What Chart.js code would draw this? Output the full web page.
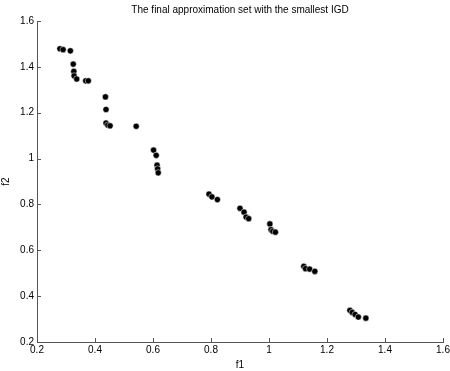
<!DOCTYPE html>
<html>
<head>
<meta charset="utf-8">
<script src="https://cdn.jsdelivr.net/npm/chart.js@4/dist/chart.umd.min.js"></script>
<style>
  html, body { margin: 0; padding: 0; background: #fff; }
  #wrap { width: 450px; height: 371px; }
</style>
</head>
<body>
<div id="wrap"><canvas id="igdChart" width="450" height="371"></canvas></div>
<script>
// valores
const f1 = [0.279, 0.290, 0.315, 0.325, 0.327, 0.328, 0.337, 0.368, 0.377,
  0.436, 0.438, 0.438, 0.444, 0.452, 0.542,
  0.602, 0.611, 0.614, 0.616, 0.618,
  0.793, 0.803, 0.822, 0.900, 0.914, 0.921, 0.930,
  1.003, 1.007, 1.013, 1.022,
  1.120, 1.126, 1.140, 1.158,
  1.279, 1.287, 1.297, 1.308, 1.334];
const f2 = [1.479, 1.475, 1.470, 1.412, 1.380, 1.361, 1.347, 1.339, 1.339,
  1.269, 1.214, 1.155, 1.146, 1.143, 1.141,
  1.037, 1.014, 0.971, 0.955, 0.938,
  0.845, 0.833, 0.821, 0.783, 0.766, 0.745, 0.738,
  0.715, 0.690, 0.683, 0.679,
  0.530, 0.520, 0.518, 0.508,
  0.338, 0.329, 0.320, 0.309, 0.304];
const xTicks = [0.2, 0.4, 0.6, 0.8, 1, 1.2, 1.4, 1.6];
const yTicks = [0.2, 0.4, 0.6, 0.8, 1, 1.2, 1.4, 1.6];
const titleText = "The final approximation set with the smallest IGD";

const points = f1.map((x, i) => ({ x: x, y: f2[i] }));
const axisColor = "#555";
const fontFamily = "Liberation Sans, Arial, sans-serif";

function fmt(v) {
  return String(Number(v.toFixed(1)));
}

// ticks para dentro + titulo centrado na area do grafico
const matlabLook = {
  id: "matlabLook",
  afterDraw(chart) {
    const ctx = chart.ctx;
    const area = chart.chartArea;
    const xs = chart.scales.x;
    const ys = chart.scales.y;
    ctx.save();
    ctx.strokeStyle = axisColor;
    ctx.lineWidth = 1;
    ctx.beginPath();
    xTicks.forEach((v) => {
      const px = Math.round(xs.getPixelForValue(v)) + 0.5;
      ctx.moveTo(px, area.bottom);
      ctx.lineTo(px, area.bottom - 4);
    });
    yTicks.forEach((v) => {
      const py = Math.round(ys.getPixelForValue(v)) + 0.5;
      ctx.moveTo(area.left, py);
      ctx.lineTo(area.left + 4, py);
    });
    ctx.stroke();

    ctx.fillStyle = "#000";
    ctx.font = "10px " + fontFamily;
    ctx.textAlign = "center";
    ctx.textBaseline = "middle";
    ctx.fillText(titleText, (area.left + area.right) / 2, 10);
    ctx.restore();
  }
};

new Chart(document.getElementById("igdChart"), {
  type: "scatter",
  data: {
    datasets: [{
      data: points,
      backgroundColor: "#000",
      borderColor: "#fff",
      borderWidth: 0.5,
      pointRadius: 3.1,
      pointHoverRadius: 3.1
    }]
  },
  options: {
    responsive: false,
    animation: false,
    layout: { padding: { left: 0, right: 7, top: 21, bottom: 0 } },
    plugins: {
      legend: { display: false },
      tooltip: { enabled: false },
      title: { display: false }
    },
    scales: {
      x: {
        type: "linear",
        min: 0.2,
        max: 1.6,
        afterBuildTicks: (scale) => { scale.ticks = xTicks.map((v) => ({ value: v })); },
        afterFit: (scale) => { scale.height = 29; scale.paddingLeft = 0; scale.paddingRight = 0; },
        ticks: {
          color: "#000",
          padding: 2,
          maxRotation: 0,
          font: { family: fontFamily, size: 10 },
          callback: (v) => fmt(v)
        },
        grid: { display: true, drawOnChartArea: false, drawTicks: false },
        border: { display: true, color: axisColor },
        title: {
          display: true,
          text: "f1",
          color: "#000",
          padding: { top: 1, bottom: 0 },
          font: { family: fontFamily, size: 10 }
        }
      },
      y: {
        type: "linear",
        min: 0.2,
        max: 1.6,
        afterBuildTicks: (scale) => { scale.ticks = yTicks.map((v) => ({ value: v })); },
        afterFit: (scale) => { scale.width = 37; scale.paddingTop = 0; scale.paddingBottom = 0; },
        ticks: {
          color: "#000",
          padding: 3,
          font: { family: fontFamily, size: 10 },
          callback: (v) => fmt(v)
        },
        grid: { display: true, drawOnChartArea: false, drawTicks: false },
        border: { display: true, color: axisColor },
        title: {
          display: true,
          text: "f2",
          color: "#000",
          padding: { top: 0, bottom: 2 },
          font: { family: fontFamily, size: 10 }
        }
      }
    }
  },
  plugins: [matlabLook]
});
</script>
</body>
</html>
